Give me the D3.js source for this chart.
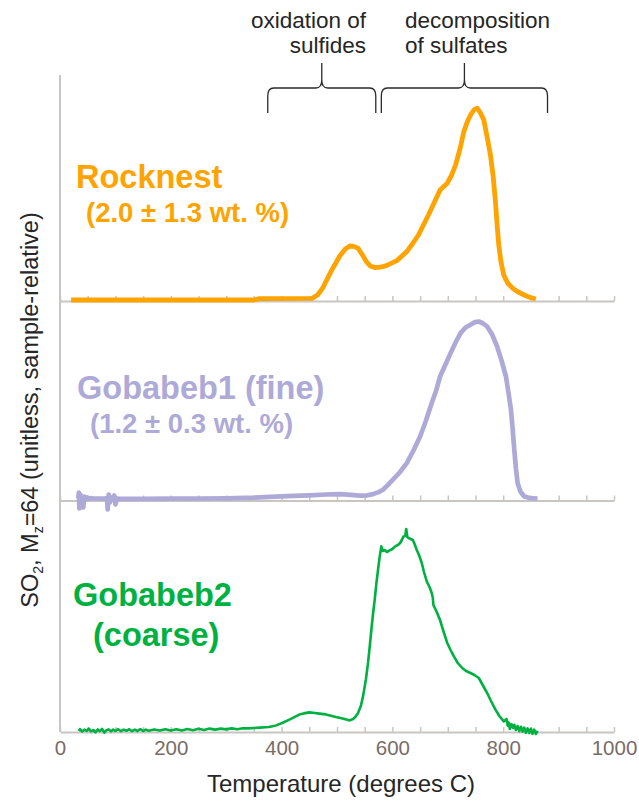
<!DOCTYPE html>
<html>
<head>
<meta charset="utf-8">
<script src="https://cdn.jsdelivr.net/npm/d3@7"></script>
<style>
  html, body { margin: 0; padding: 0; background: #fff; }
  svg { display: block; }
</style>
</head>
<body>
<svg id="chart" width="639" height="801"></svg>
<script>
// SO2 (m/z 64) evolved-gas traces versus oven temperature, three samples.
// Signal values are sample-relative (0-100 per panel).

const rocknestT = [20, 350, 360, 455, 465, 474, 489, 505, 515, 523, 530, 538, 546, 553, 560, 568, 578, 589, 608, 626, 636, 647, 656, 665, 676, 686, 699, 707, 714, 722, 729, 735, 741, 747, 753, 759, 765, 771, 777, 782, 786, 789, 792, 796, 801, 808, 817, 827, 838, 848, 859];
const rocknestV = [0.5, 0.5, 1.2, 1.3, 3, 6.4, 14.7, 22.5, 26, 27.5, 27.3, 26.4, 23, 19.7, 17.5, 16.7, 16.9, 17.7, 20.2, 24.7, 28.5, 33, 38, 43, 49.5, 55.5, 58.9, 63, 68, 76, 84.7, 89.5, 93, 95.5, 96.4, 94, 90.5, 82, 73, 62, 49.7, 38, 28, 19.5, 13, 9, 6.4, 4.5, 3, 1.8, 1];

const gobabeb1T = [33, 34, 35, 37, 38, 40, 42, 44, 46, 49, 52, 55, 60, 70, 80, 85, 86, 88, 90, 92, 95, 98, 100, 103, 110, 150, 200, 250, 300, 350, 380, 420, 450, 480, 505, 520, 541, 555, 565, 575, 583, 592, 601, 613, 626, 638, 650, 660, 671, 679, 686, 695, 705, 714, 723, 732, 741, 749, 756, 764, 771, 780, 789, 797, 805, 810, 814, 817, 820, 823, 826, 831, 838, 848, 862];
const gobabeb1V = [1, 4, -4, 3, -2.5, 1.5, -3.5, 2, 0.5, 1.5, 0.8, 1.2, 1, 1, 0.9, 1.2, -4.5, 3, -1, 1.5, 0.8, 2.5, -2, 1, 0.8, 0.8, 0.9, 1, 1.1, 1.4, 1.8, 2.3, 2.6, 3, 3.2, 2.9, 2.4, 2.6, 3.2, 4.2, 5.4, 7.8, 10.4, 14, 18.7, 25, 32, 39.5, 48.7, 55, 62, 67.5, 73.7, 79, 83.7, 86.5, 87.9, 89.2, 89.5, 88.5, 87, 83, 77, 70, 62, 53, 45.4, 36, 25.4, 16, 8.7, 4.5, 2, 1.2, 1];

const gobabeb2T = [34, 36, 40, 44, 48, 52, 56, 60, 64, 68, 72, 76, 80, 84, 88, 92, 96, 100, 105, 110, 115, 120, 125, 130, 135, 140, 145, 150, 155, 160, 170, 180, 190, 200, 210, 220, 230, 240, 250, 260, 270, 280, 290, 300, 310, 320, 330, 340, 350, 360, 370, 377, 390, 401, 415, 432, 440, 450, 460, 468, 480, 498, 510, 517, 523, 529, 533, 538, 543, 547, 552, 556, 559, 562, 565, 568, 571, 574, 577, 580, 583, 586, 590, 595, 600, 605, 610, 614, 617, 620, 623, 625, 627, 629, 633, 637, 640, 644, 648, 653, 657, 662, 667, 671, 673, 674, 680, 686, 692, 699, 705, 711, 718, 726, 733, 741, 748, 756, 763, 771, 778, 786, 793, 801, 806, 808, 810, 812, 815, 818, 820, 823, 826, 829, 832, 835, 838, 841, 844, 847, 850, 853, 856, 859, 862];
const gobabeb2V = [0.5, 1.4, 0.2, 1.2, 0.5, 1.7, 0.3, 1.0, -0.2, 1.3, 0.4, 1.5, -0.3, 0.9, 1.3, 0.3, 1.2, 0.5, 1.4, 0.4, 1.2, 0.6, 1.4, 0.4, 1.2, 0.5, 1.4, 0.5, 1.2, 0.6, 1.3, 0.7, 1.4, 0.7, 1.4, 0.8, 1.5, 0.9, 1.6, 1.0, 1.7, 1.2, 1.7, 1.3, 1.8, 1.4, 1.9, 1.8, 2.0, 2.2, 2.4, 2.5, 3.3, 4.5, 6.3, 8.7, 9.3, 9.8, 9.5, 9.2, 8.8, 7.5, 6.8, 6.2, 5.8, 6.5, 7.5, 9.5, 13, 17.8, 26, 34.5, 42.5, 51, 59, 66, 74, 81, 87.5, 92.8, 90.5, 91, 90, 90.8, 91.5, 92.8, 93.5, 94.5, 96, 97.8, 98, 101.5, 97.5, 97, 96.5, 96, 94, 91, 88.5, 84.5, 80, 75.3, 72.5, 69.5, 67, 63.5, 60, 56, 50.5, 44.5, 41, 37.8, 34.5, 32, 30.5, 29.5, 28.5, 27, 23.5, 19.5, 15.5, 11.2, 8, 5.3, 6.5, 3.2, 4.8, 1.5, 3.9, 2.0, 3.6, 1.0, 3.0, 0.4, 2.6, 0.2, 2.2, -0.4, 1.8, -0.5, 1.6, -0.9, 1.2, -1.0, 0.6, -0.8];

const tickLabels = [0, 200, 400, 600, 800, 1000];
const minorTicks = d3.range(0, 1001, 50);

const sampleNames = ["Rocknest", "Gobabeb1 (fine)", "Gobabeb2"];
const sampleNotes = ["(2.0 \u00b1 1.3 wt. %)", "(1.2 \u00b1 0.3 wt. %)", "(coarse)"];
const sampleColors = ["#ffa300", "#aeaad8", "#00b141"];

const rangeLabels = [["oxidation of", "sulfides"], ["decomposition", "of sulfates"]];
const rangeSpans = [[375, 570], [580, 880]];

// ---- layout -------------------------------------------------------------
const svg = d3.select("#chart");
const FONT = "'Liberation Sans', Arial, Helvetica, sans-serif";
const AXIS_GRAY = "#c9c5c2";

svg.append("rect").attr("width", 639).attr("height", 801).attr("fill", "#fff");

const x = d3.scaleLinear().domain([0, 1000]).range([60, 614]);

const panels = [
  { T: rocknestT, V: rocknestV, base: 301, width: 4.8,
    name: { x: 76, y: 187.5 }, note: { x: 86, y: 221.5 } },
  { T: gobabeb1T, V: gobabeb1V, base: 500.5, width: 4.7,
    name: { x: 77, y: 399 }, note: { x: 90, y: 433 } },
  { T: gobabeb2T, V: gobabeb2V, base: 732, width: 2.6,
    name: { x: 73, y: 606 }, note: { x: 93, y: 646 } }
];

// vertical axis line
svg.append("line")
  .attr("x1", x(0)).attr("x2", x(0))
  .attr("y1", 75).attr("y2", 732)
  .attr("stroke", AXIS_GRAY).attr("stroke-width", 2);

panels.forEach((p, i) => {
  const y = d3.scaleLinear().domain([0, 100]).range([p.base, p.base - 200]);

  // baseline with small upward ticks every 50 degrees
  const axis = svg.append("g")
    .attr("transform", `translate(0,${p.base})`)
    .call(d3.axisBottom(x).tickValues(minorTicks).tickSizeInner(-5).tickSizeOuter(0).tickFormat(""));
  axis.select(".domain").attr("stroke", AXIS_GRAY).attr("stroke-width", 2);
  axis.selectAll(".tick line").attr("stroke", AXIS_GRAY).attr("stroke-width", 1.5);

  if (i === panels.length - 1) {
    const lab = svg.append("g")
      .attr("transform", `translate(0,${p.base})`)
      .call(d3.axisBottom(x).tickValues(tickLabels).tickSize(0).tickPadding(8).tickFormat(d3.format("d")));
    lab.select(".domain").remove();
    lab.selectAll("text")
      .attr("font-family", FONT).attr("font-size", 20.5).attr("fill", "#7a6c67");
  }

  const pts = p.T.map((t, k) => [t, p.V[k]]);
  const line = d3.line().x(d => x(d[0])).y(d => y(d[1]));
  svg.append("path")
    .datum(pts)
    .attr("d", line)
    .attr("fill", "none")
    .attr("stroke", sampleColors[i])
    .attr("stroke-width", p.width)
    .attr("stroke-linejoin", "round");

  svg.append("text")
    .attr("x", p.name.x).attr("y", p.name.y)
    .attr("font-family", FONT).attr("font-weight", "bold").attr("font-size", 32.5)
    .attr("fill", sampleColors[i])
    .text(sampleNames[i]);
  svg.append("text")
    .attr("x", p.note.x).attr("y", p.note.y)
    .attr("font-family", FONT).attr("font-weight", "bold")
    .attr("font-size", i === 2 ? 32.5 : 27.5)
    .attr("fill", sampleColors[i])
    .text(sampleNotes[i]);
});

// x axis title
svg.append("text")
  .attr("x", x(500) + 4).attr("y", 792)
  .attr("text-anchor", "middle")
  .attr("font-family", FONT).attr("font-size", 24).attr("fill", "#262626")
  .text("Temperature (degrees C)");

// y axis title with subscripts
const yt = svg.append("text")
  .attr("transform", "translate(38,410) rotate(-90)")
  .attr("text-anchor", "middle")
  .attr("font-family", FONT).attr("font-size", 23.5).attr("fill", "#262626");
yt.append("tspan").text("SO");
yt.append("tspan").attr("font-size", 14).attr("dy", 5).text("2");
yt.append("tspan").attr("dy", -5).text(", M");
yt.append("tspan").attr("font-size", 14).attr("dy", 5).text("z");
yt.append("tspan").attr("dy", -5).text("=64 (unitless, sample-relative)");

// curly braces marking the two reaction ranges
function brace(x1, x2, yLeg, yBar, yTip) {
  const xm = (x1 + x2) / 2;
  const r = 6;
  const p = d3.path();
  p.moveTo(x1, yLeg);
  p.lineTo(x1, yBar + r + 2);
  p.quadraticCurveTo(x1, yBar, x1 + r, yBar);
  p.lineTo(xm - r, yBar);
  p.quadraticCurveTo(xm, yBar, xm, yBar - r - 2);
  p.lineTo(xm, yTip);
  p.moveTo(xm, yBar - r - 2);
  p.quadraticCurveTo(xm, yBar, xm + r, yBar);
  p.lineTo(x2 - r, yBar);
  p.quadraticCurveTo(x2, yBar, x2, yBar + r + 2);
  p.lineTo(x2, yLeg);
  return p.toString();
}

rangeSpans.forEach((s) => {
  svg.append("path")
    .attr("d", brace(x(s[0]), x(s[1]), 113, 88, 63))
    .attr("fill", "none").attr("stroke", "#2a2a2a").attr("stroke-width", 1.3);
});

const noteLeft = svg.append("text")
  .attr("font-family", FONT).attr("font-size", 22.5).attr("fill", "#262626")
  .attr("text-anchor", "end");
noteLeft.append("tspan").attr("x", 366).attr("y", 27.5).text(rangeLabels[0][0]);
noteLeft.append("tspan").attr("x", 366).attr("y", 53).text(rangeLabels[0][1]);

const noteRight = svg.append("text")
  .attr("font-family", FONT).attr("font-size", 22.5).attr("fill", "#262626")
  .attr("text-anchor", "start");
noteRight.append("tspan").attr("x", 405).attr("y", 27.5).text(rangeLabels[1][0]);
noteRight.append("tspan").attr("x", 405).attr("y", 53).text(rangeLabels[1][1]);
</script>
</body>
</html>
